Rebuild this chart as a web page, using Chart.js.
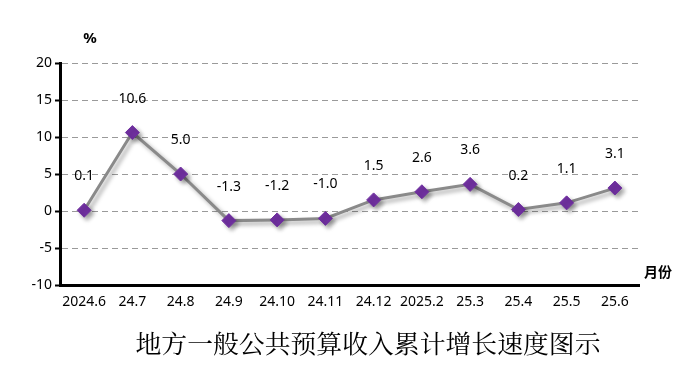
<!DOCTYPE html>
<html>
<head>
<meta charset="utf-8">
<script src="https://cdn.jsdelivr.net/npm/chart.js@4"></script>
<style>
  html, body { margin: 0; padding: 0; background: #fff; }
  #wrap { width: 692px; height: 379px; }
</style>
</head>
<body>
<div id="wrap"><canvas id="chart" width="692" height="379"></canvas></div>
<script>
// months and cumulative growth rate (%)
const months = ['2024.6', '24.7', '24.8', '24.9', '24.10', '24.11', '24.12', '2025.2', '25.3', '25.4', '25.5', '25.6'];
const growth = [0.1, 10.6, 5.0, -1.3, -1.2, -1.0, 1.5, 2.6, 3.6, 0.2, 1.1, 3.1];
const yTicks = [-10, -5, 0, 5, 10, 15, 20];
const chartTitle = '地方一般公共预算收入累计增长速度图示';

const numFont = '"Noto Sans", "DejaVu Sans", sans-serif';
const cjkFont = '"Noto Sans CJK SC", sans-serif';

// shadow under the line and markers
const shadow = {
  id: 'shadow',
  beforeDatasetDraw(chart) {
    const ctx = chart.ctx;
    ctx.save();
    ctx.shadowColor = 'rgba(0,0,0,0.35)';
    ctx.shadowOffsetX = 3;
    ctx.shadowOffsetY = 3;
    ctx.shadowBlur = 4;
  },
  afterDatasetDraw(chart) {
    chart.ctx.restore();
  }
};

// value labels, unit text and title
const extras = {
  id: 'extras',
  afterDraw(chart) {
    const ctx = chart.ctx;
    const meta = chart.getDatasetMeta(0);
    ctx.save();
    ctx.fillStyle = '#000';
    ctx.font = '14px ' + numFont;
    ctx.textAlign = 'center';
    ctx.textBaseline = 'middle';
    meta.data.forEach((pt, i) => {
      ctx.fillText(growth[i].toFixed(1), pt.x, pt.y - 34);
    });

    ctx.font = 'bold 15px ' + numFont;
    ctx.fillText('%', 90, 39);

    ctx.textAlign = 'left';
    ctx.font = 'bold 14px ' + cjkFont;
    ctx.fillText('月份', 644, 272);

    // title, stretched to the reference width
    ctx.textAlign = 'center';
    ctx.font = '25px "Noto Serif CJK SC", ' + cjkFont;
    const w = ctx.measureText(chartTitle).width;
    ctx.translate(368, 343);
    ctx.scale(465 / w, 1);
    ctx.fillText(chartTitle, 0, 0);
    ctx.restore();
  }
};

new Chart(document.querySelector('#chart').getContext('2d'), {
  type: 'line',
  data: {
    labels: months,
    datasets: [{
      data: growth,
      borderColor: '#8a8a8a',
      borderWidth: 3,
      tension: 0,
      pointStyle: 'rectRot',
      pointRadius: 7,
      pointBackgroundColor: '#7030a0',
      pointBorderColor: '#7030a0',
      pointBorderWidth: 1
    }]
  },
  options: {
    responsive: false,
    animation: false,
    layout: { padding: { left: 0, top: 63, right: 53, bottom: 64 } },
    plugins: {
      legend: { display: false },
      tooltip: { enabled: false }
    },
    scales: {
      x: {
        offset: true,
        afterFit(scale) { scale.height = 30; },
        grid: { drawOnChartArea: false, drawTicks: false },
        border: { color: '#000', width: 3 },
        ticks: {
          color: '#000',
          padding: 9,
          maxRotation: 0,
          autoSkip: false,
          font: { family: numFont, size: 14 }
        }
      },
      y: {
        min: -10,
        max: 20,
        afterFit(scale) { scale.width = 60; },
        afterBuildTicks(scale) { scale.ticks = yTicks.map(v => ({ value: v })); },
        grid: {
          color: '#9a9a9a',
          lineWidth: 1,
          tickColor: '#000',
          tickLength: 5,
          tickWidth: 2
        },
        border: { color: '#000', width: 3, dash: [6, 4] },
        ticks: {
          color: '#000',
          padding: 3,
          font: { family: numFont, size: 14 }
        }
      }
    }
  },
  plugins: [shadow, extras]
});
</script>
</body>
</html>
